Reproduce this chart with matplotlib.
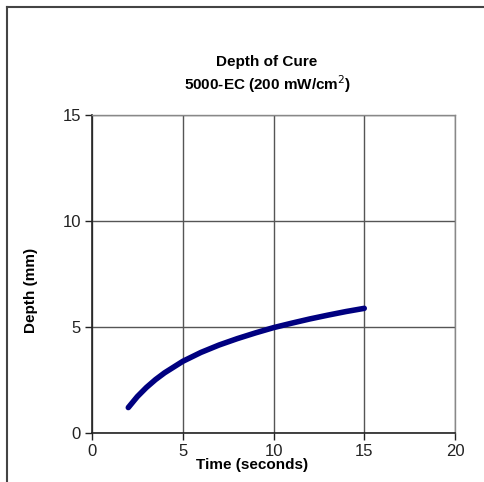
import matplotlib
matplotlib.use("Agg")
import matplotlib.pyplot as plt
from matplotlib.lines import Line2D

time_s = [2, 2.5, 3, 3.5, 4, 5, 6, 7, 8, 9, 10, 11, 12, 13, 14, 15]
depth_mm = [1.2, 1.72, 2.15, 2.52, 2.84, 3.38, 3.8, 4.15, 4.45, 4.72, 4.97, 5.18, 5.38, 5.56, 5.73, 5.88]
x_ticks = [0, 5, 10, 15, 20]
y_ticks = [0, 5, 10, 15]

fam = ['Liberation Sans Narrow', 'Liberation Sans', 'DejaVu Sans']
famb = ['Liberation Sans', 'DejaVu Sans']

fig = plt.figure(figsize=(4.84, 4.82), dpi=100)
ax = fig.add_axes([92/484, 1-433/482, 363/484, 318/482])

ax.plot(time_s, depth_mm, color='#000080', lw=4.0, solid_capstyle='round',
        solid_joinstyle='round', zorder=3)
ax.set_xlim(0, 20)
ax.set_ylim(0, 15)
ax.set_xticks(x_ticks)
ax.set_yticks(y_ticks)
ax.grid(True, color='#555555', lw=1.0)
for s in ['top', 'right']:
    ax.spines[s].set_color('#888888')
    ax.spines[s].set_linewidth(1.0)
for s in ['left', 'bottom']:
    ax.spines[s].set_color('#222222')
    ax.spines[s].set_linewidth(1.2)
ax.tick_params(direction='out', length=5, width=1, color='#222222', labelsize=12, pad=3)
for lab in ax.get_xticklabels() + ax.get_yticklabels():
    lab.set_family(fam)
    lab.set_color('#222222')

ax.set_xlabel('Time (seconds)', fontsize=11, fontweight='bold', family=famb)
ax.xaxis.set_label_coords(0.44, -0.078)
ax.set_ylabel('Depth (mm)', fontsize=11, fontweight='bold', family=famb)
ax.yaxis.set_label_coords(-0.150, 0.447)

fig.text(267/484, 1-62/482, 'Depth of Cure', ha='center', va='center', fontsize=11, fontweight='bold', family=famb)
fig.text(268/484, 1-84/482, '5000-EC (200 mW/cm$^{2}$)', ha='center', va='center', fontsize=11, fontweight='bold', family=famb)

fig.add_artist(Line2D([7/484, 7/484], [0, 1-7/482], transform=fig.transFigure, color='#444444', lw=1.5))
fig.add_artist(Line2D([7/484, 1], [1-7/482, 1-7/482], transform=fig.transFigure, color='#444444', lw=1.5))

fig.savefig('out.png', dpi=100)
